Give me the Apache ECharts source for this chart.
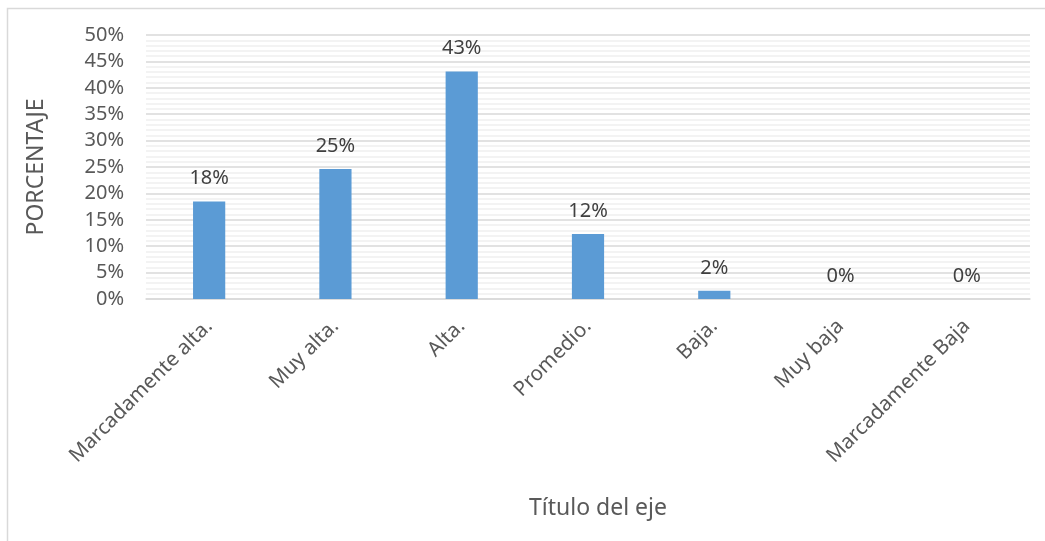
<!DOCTYPE html>
<html>
<head>
<meta charset="utf-8">
<script src="https://cdn.jsdelivr.net/npm/echarts@6/dist/echarts.min.js"></script>
<style>
html,body{margin:0;padding:0;background:#fff;}
#c{width:1045px;height:541px;}
</style>
</head>
<body>
<div id="c"></div>
<script>
const categories = ["Marcadamente alta.", "Muy alta.", "Alta.", "Promedio.", "Baja.", "Muy baja", "Marcadamente Baja"];
const values = [0.1846, 0.2462, 0.4308, 0.1231, 0.0154, 0, 0];
const yTicks = {min: 0, max: 0.5, interval: 0.05};
const xTitle = "Título del eje";
const yTitle = "PORCENTAJE";

const font = "'Noto Sans', 'Open Sans', sans-serif";
const chart = echarts.init(document.getElementById('c'));
chart.setOption({
  animation: false,
  backgroundColor: '#fff',
  graphic: [{
    type: 'rect', left: 5, top: 6, z: -1,
    shape: {width: 1060, height: 560},
    style: {fill: 'none', stroke: '#d9d9d9', lineWidth: 1.5}
  }],
  grid: {left: 146, right: 15, top: 35, bottom: 242},
  xAxis: {
    type: 'category',
    data: categories,
    axisTick: {show: false},
    axisLine: {show: true, lineStyle: {color: '#d9d9d9', width: 1.5}},
    axisLabel: {rotate: 45, color: '#595959', fontSize: 20.5, fontFamily: font, margin: 24, interval: 0},
    name: xTitle,
    nameLocation: 'middle',
    nameGap: 198,
    nameTextStyle: {color: '#595959', fontSize: 23, fontFamily: font, padding: [0, 0, 0, 20]}
  },
  yAxis: {
    type: 'value',
    min: yTicks.min, max: yTicks.max, interval: yTicks.interval,
    axisLine: {show: false},
    axisTick: {show: false},
    axisLabel: {
      color: '#595959', fontSize: 20, fontFamily: font, margin: 22,
      formatter: v => Math.round(v * 100) + '%'
    },
    splitLine: {show: true, lineStyle: {color: '#d9d9d9', width: 1.5}},
    minorTick: {show: false, splitNumber: 5},
    minorSplitLine: {show: true, lineStyle: {color: '#f0f0f0', width: 1.5}},
    name: yTitle,
    nameLocation: 'middle',
    nameGap: 98,
    nameRotate: 90,
    nameTextStyle: {color: '#595959', fontSize: 23, fontFamily: font}
  },
  series: [{
    type: 'bar',
    data: values,
    barWidth: '25.5%',
    itemStyle: {color: '#5b9bd5'},
    label: {
      show: true, position: 'top', distance: 13,
      color: '#404040', fontSize: 20, fontFamily: font,
      formatter: p => Math.round(p.value * 100) + '%'
    }
  }]
});
</script>
</body>
</html>
